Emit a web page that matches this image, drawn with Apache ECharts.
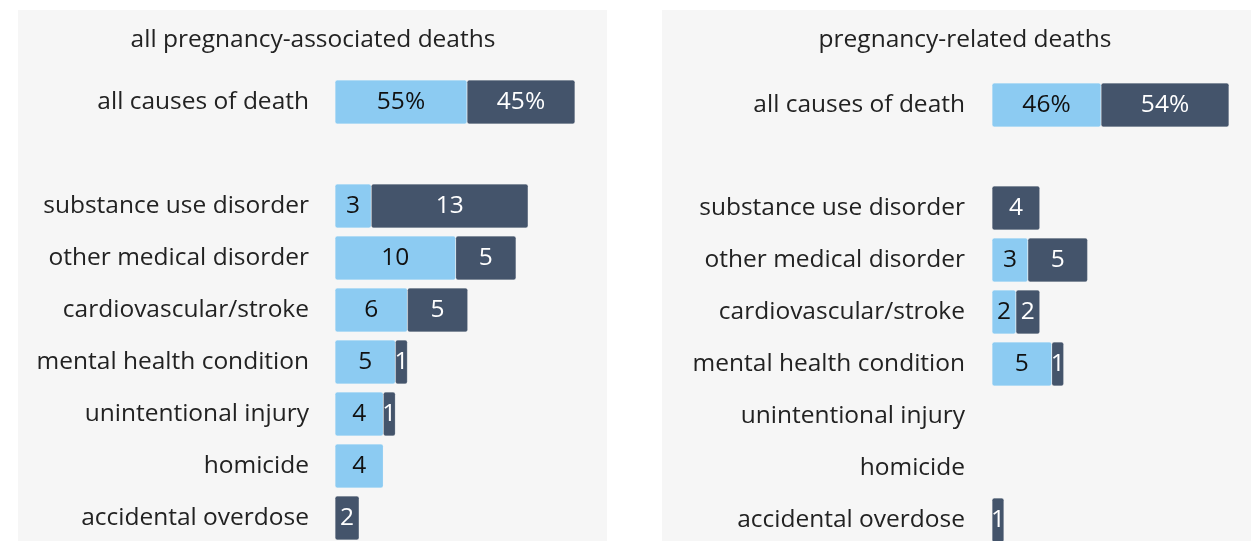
<!DOCTYPE html>
<html>
<head>
<meta charset="utf-8">
<script src="https://cdn.jsdelivr.net/npm/echarts@6/dist/echarts.min.js"></script>
<style>
html,body{margin:0;padding:0;background:#fff;}
#chart{width:1254px;height:541px;}
</style>
</head>
<body>
<div id="chart"></div>
<script>
// ---- data ----
const panelTitles = ['all pregnancy-associated deaths', 'pregnancy-related deaths'];
const overallCategory = ['all causes of death'];
const causes = ['substance use disorder', 'other medical disorder', 'cardiovascular/stroke',
  'mental health condition', 'unintentional injury', 'homicide', 'accidental overdose'];
// percent shares [light, dark]
const assocOverallLight = [55];
const assocOverallDark = [45];
const relatedOverallLight = [46];
const relatedOverallDark = [54];
// counts by cause (0 = no bar)
const assocLight = [3, 10, 6, 5, 4, 4, 0];
const assocDark = [13, 5, 5, 1, 1, 0, 2];
const relatedLight = [0, 3, 2, 5, 0, 0, 0];
const relatedDark = [4, 5, 2, 1, 0, 0, 1];

const LIGHT = '#8ccbf2';
const DARK = '#44546b';
const FONT = 'Open Sans';
const FS = 24.5;

const nz = arr => arr.map(v => (v === 0 ? null : v));

const chart = echarts.init(document.getElementById('chart'), null, {renderer: 'canvas'});

const labelLight = {show: true, position: 'inside', color: '#111', fontSize: FS, fontFamily: FONT};
const labelDark = {show: true, position: 'inside', color: '#fff', fontSize: FS, fontFamily: FONT};
const pctFmt = p => p.value + '%';

function catAxis(gridIndex, data, margin, gap) {
  return {
    type: 'category', gridIndex, data, inverse: true, boundaryGap: gap,
    axisLine: {show: false}, axisTick: {show: false}, splitLine: {show: false},
    axisLabel: {margin, color: '#222', fontSize: FS, fontFamily: FONT, showMinLabel: true, showMaxLabel: true, interval: 0}
  };
}
function valAxis(gridIndex, max) {
  return {type: 'value', gridIndex, min: 0, max, show: false, splitLine: {show: false}};
}
function bar(xi, yi, data, color, label, fmt) {
  const l = Object.assign({}, label);
  if (fmt) l.formatter = fmt;
  return {
    type: 'bar', xAxisIndex: xi, yAxisIndex: yi, stack: 's' + xi, data,
    barWidth: 44, itemStyle: {color, borderRadius: 2, borderColor: 'rgba(255,255,255,0.35)', borderWidth: 0.5},
    label: l, silent: true, animation: false
  };
}

const option = {
  backgroundColor: '#ffffff',
  animation: false,
  graphic: [
    {type: 'rect', shape: {x: 18, y: 10, width: 589, height: 540}, style: {fill: '#f6f6f6'}, z: -10},
    {type: 'rect', shape: {x: 662, y: 10, width: 589, height: 540}, style: {fill: '#f6f6f6'}, z: -10}
  ],
  title: [
    {text: panelTitles[0], left: 308, top: 23, textAlign: 'center',
      textStyle: {fontSize: FS, fontWeight: 'normal', color: '#222', fontFamily: FONT}},
    {text: panelTitles[1], left: 960, top: 23, textAlign: 'center',
      textStyle: {fontSize: FS, fontWeight: 'normal', color: '#222', fontFamily: FONT}}
  ],
  grid: [
    {left: 335, top: 76, width: 240, height: 52},
    {left: 335, top: 206, width: 241.4, height: 312},
    {left: 992, top: 79, width: 237, height: 52},
    {left: 992, top: 208, width: 239, height: 312}
  ],
  xAxis: [valAxis(0, 100), valAxis(1, 20), valAxis(2, 100), valAxis(3, 20)],
  yAxis: [
    catAxis(0, overallCategory, 26, true),
    catAxis(1, causes, 26, false),
    catAxis(2, overallCategory, 27, true),
    catAxis(3, causes, 27, false)
  ],
  series: [
    bar(0, 0, assocOverallLight, LIGHT, labelLight, pctFmt),
    bar(0, 0, assocOverallDark, DARK, labelDark, pctFmt),
    bar(1, 1, nz(assocLight), LIGHT, labelLight),
    bar(1, 1, nz(assocDark), DARK, labelDark),
    bar(2, 2, relatedOverallLight, LIGHT, labelLight, pctFmt),
    bar(2, 2, relatedOverallDark, DARK, labelDark, pctFmt),
    bar(3, 3, nz(relatedLight), LIGHT, labelLight),
    bar(3, 3, nz(relatedDark), DARK, labelDark)
  ]
};
chart.setOption(option);
</script>
</body>
</html>
